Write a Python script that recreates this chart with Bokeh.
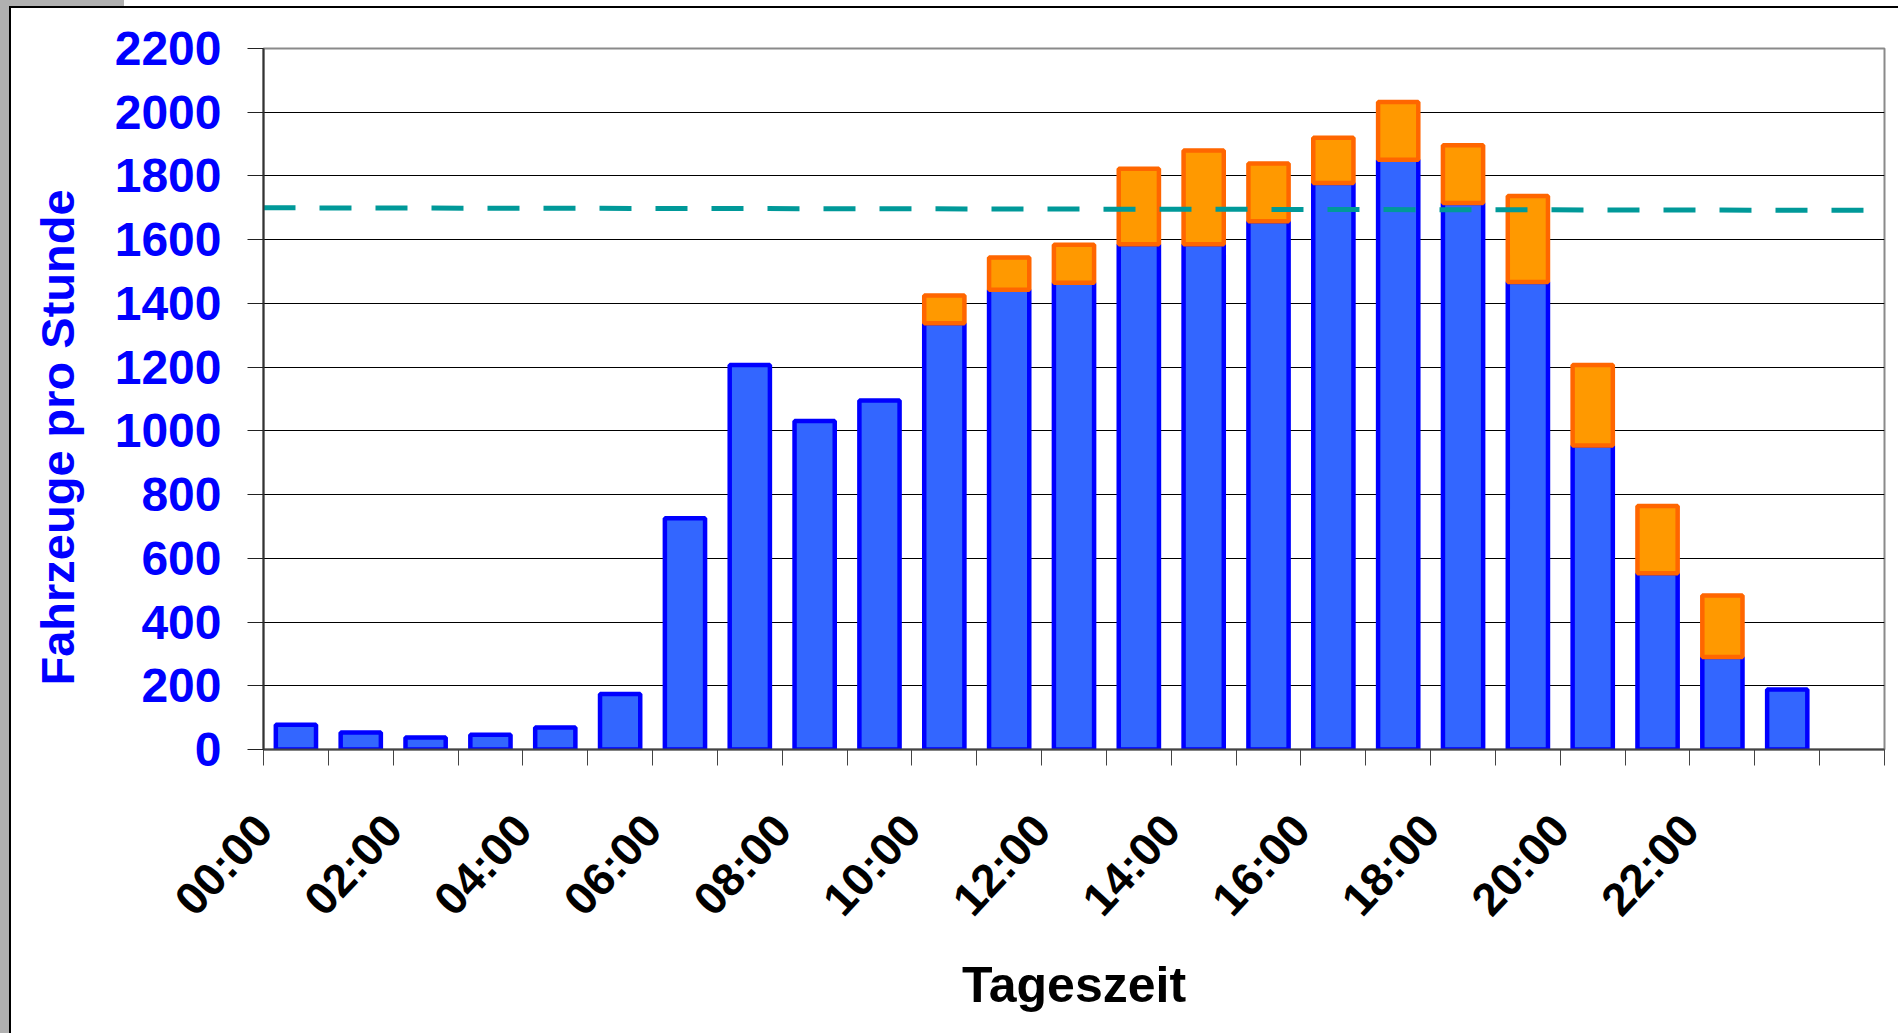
import math
from bokeh.plotting import figure
from bokeh.models import FixedTicker, Title, ColumnDataSource
from bokeh.embed import file_html
from bokeh.resources import INLINE

# ---- data ----
hour_labels = ["00:00", "01:00", "02:00", "03:00", "04:00", "05:00", "06:00", "07:00",
               "08:00", "09:00", "10:00", "11:00", "12:00", "13:00", "14:00", "15:00",
               "16:00", "17:00", "18:00", "19:00", "20:00", "21:00", "22:00", "23:00"]
base_counts = [78, 53, 38, 46, 69, 174, 726, 1207, 1031, 1095, 1338, 1443,
               1465, 1586, 1586, 1658, 1778, 1851, 1715, 1467, 954, 553, 290, 188]
extra_counts = [0, 0, 0, 0, 0, 0, 0, 0, 0, 0, 87, 101,
                119, 237, 294, 181, 142, 181, 181, 270, 253, 211, 193, 0]
capacity_limit = [1700, 1692]          # dashed reference line (start / end of day)
y_ticks = [0, 200, 400, 600, 800, 1000, 1200, 1400, 1600, 1800, 2000, 2200]
shown_labels = ["00:00", "02:00", "04:00", "06:00", "08:00", "10:00",
                "12:00", "14:00", "16:00", "18:00", "20:00", "22:00"]

FONT = "Liberation Sans"
n_slots = len(hour_labels) + 1

W, H = 1898, 1033
p = figure(width=W, height=H, x_range=(0, n_slots), y_range=(y_ticks[0], y_ticks[-1]),
           output_backend="svg", toolbar_location=None, title=None,
           min_border_left=263, min_border_top=48, min_border_right=14, min_border_bottom=284)
p.background_fill_color = "white"
p.border_fill_color = None
p.outline_line_color = "#8a8a8a"
p.outline_line_width = 2
# window frame of the original screenshot (grey strip + black border lines)
p.styles = {"background": (
    "linear-gradient(#000,#000) 9px 6px / 2px 100% no-repeat, "
    "linear-gradient(#000,#000) 9px 6px / 100% 2px no-repeat, "
    "linear-gradient(#b0b0b0,#b0b0b0) 0 0 / 9px 100% no-repeat, "
    "linear-gradient(#b0b0b0,#b0b0b0) 0 0 / 124px 6px no-repeat, white")}

xs = [i + 0.5 for i in range(len(hour_labels))]
src = ColumnDataSource(dict(x=xs, base=base_counts))
p.vbar(x="x", top="base", bottom=0, width=0.62, source=src,
       fill_color="#3366FF", line_color="#0000FF", line_width=4.5)

ox, ob, ot = [], [], []
for i, e in enumerate(extra_counts):
    if e > 0:
        ox.append(xs[i]); ob.append(base_counts[i]); ot.append(base_counts[i] + e)
p.vbar(x=ox, bottom=ob, top=ot, width=0.62,
       fill_color="#FF9900", line_color="#FF6600", line_width=4.5)

p.line(x=[p.x_range.start, p.x_range.end], y=capacity_limit,
       line_color="#009999", line_width=5, line_dash="32 24")

# x axis
xa = p.xaxis[0]
xa.ticker = FixedTicker(ticks=list(range(n_slots + 1)))
overrides = {i: "" for i in range(n_slots + 1)}
for lab in shown_labels:
    overrides[hour_labels.index(lab)] = lab
xa.major_label_overrides = overrides
xa.major_label_orientation = 0.82
xa.major_label_text_font = FONT
xa.major_label_text_font_style = "bold"
xa.major_label_text_font_size = "46px"
xa.major_label_text_color = "black"
xa.major_label_standoff = 56
xa.major_tick_out = 16
xa.major_tick_in = 0
xa.minor_tick_line_color = None
xa.major_tick_line_color = "#444444"
xa.axis_line_color = "#444444"
xa.axis_line_width = 2
xa.axis_label = "Tageszeit"
xa.axis_label_text_font = FONT
xa.axis_label_text_font_style = "bold"
xa.axis_label_text_font_size = "50px"
xa.axis_label_text_color = "black"
xa.axis_label_standoff = 11

# y axis
ya = p.yaxis[0]
ya.ticker = FixedTicker(ticks=y_ticks)
ya.major_label_text_font = FONT
ya.major_label_text_font_style = "bold"
ya.major_label_text_font_size = "48px"
ya.major_label_text_color = "#0000FF"
ya.major_label_standoff = 26
ya.major_tick_out = 16
ya.major_tick_in = 0
ya.minor_tick_line_color = None
ya.major_tick_line_color = "#222222"
ya.axis_line_color = "#333333"
ya.axis_line_width = 2

p.xgrid.visible = False
p.ygrid.ticker = FixedTicker(ticks=y_ticks)
p.ygrid.grid_line_color = "black"
p.ygrid.grid_line_width = 1

p.add_layout(Title(text="Fahrzeuge pro Stunde", align="left", offset=64,
                   text_font=FONT, text_font_style="bold", text_font_size="47px",
                   text_color="#0000FF", standoff=56), "left")

open("out.html", "w").write(file_html(p, INLINE))
